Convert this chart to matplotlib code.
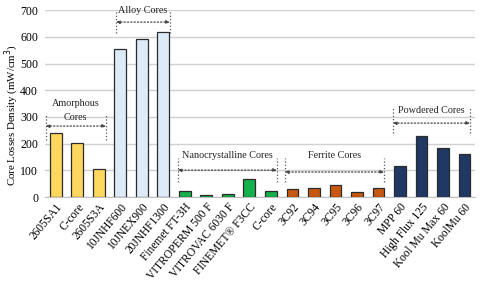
import matplotlib.pyplot as plt

# Data
cores = ["2605SA1", "C-core", "2605S3A", "10JNHF600", "10JNEX900", "20JNHF1300",
         "Finemet FT-3H", "VITROPERM 500 F", "VITROVAC 6030 F", "FINEMET® F3CC", "C-core",
         "3C92", "3C94", "3C95", "3C96", "3C97",
         "MPP 60", "High Flux 125", "Kool Mu Max 60", "KoolMu 60"]
losses = [240, 202, 104, 554, 590, 619,
          24, 9, 12, 66, 22,
          30, 34, 46, 18, 34,
          115, 230, 182, 163]
groups = ["amorphous"] * 3 + ["alloy"] * 3 + ["nano"] * 5 + ["ferrite"] * 5 + ["powder"] * 4

group_colors = {"amorphous": "#FFD75E", "alloy": "#DDEAF7", "nano": "#14B04C",
                "ferrite": "#C8580F", "powder": "#1F3864"}

plt.rcParams["font.family"] = ["Liberation Serif", "DejaVu Serif"]

fig = plt.figure(figsize=(4.8, 2.96), dpi=100)
ax = fig.add_axes([0.094, 0.334, 0.896, 0.632])

x = list(range(len(cores)))
colors = [group_colors[g] for g in groups]
ax.bar(x, losses, width=0.55, color=colors, edgecolor="#2b2b2b", linewidth=0.9, zorder=3)

ax.set_xlim(-0.5, len(cores) - 0.5)
ax.set_ylim(0, 700)
ax.set_yticks(range(0, 701, 100))
ax.yaxis.grid(True, color="#d0d0d0", linewidth=1.0, zorder=0)
ax.set_xticks(x)
ax.set_xticklabels(cores, rotation=50, ha="right", rotation_mode="anchor", fontsize=8.3)
ax.tick_params(axis="x", length=0, pad=3)
ax.tick_params(axis="y", length=0, labelsize=8.5, pad=5)
for side in ["top", "right", "left"]:
    ax.spines[side].set_visible(False)
ax.spines["bottom"].set_color("#c0c0c0")
fig.text(0.024, 0.61, "Core Losses Density (mW/cm$^3$)", rotation=90,
         ha="center", va="center", fontsize=7.8)


def bracket(x0, x1, y_arrow, y_lo, y_hi, label, y_text):
    for xv in (x0, x1):
        ax.plot([xv, xv], [y_lo, y_hi], color="#555555", linestyle=":", linewidth=0.9,
                zorder=4, clip_on=False)
    ax.annotate("", xy=(x0, y_arrow), xytext=(x1, y_arrow),
                arrowprops=dict(arrowstyle="<|-|>", linestyle=":", color="#444444",
                                linewidth=0.9, mutation_scale=5, shrinkA=0, shrinkB=0),
                annotation_clip=False, zorder=4)
    ax.text((x0 + x1) / 2, y_text, label, ha="center", va="center", fontsize=7.3,
            color="#222222", linespacing=1.6)


bracket(-0.47, 2.33, 266, 213, 307, "Amorphous\nCores", 324)
bracket(2.8, 5.3, 655, 614, 700, "Alloy Cores", 700)
bracket(5.67, 10.28, 101, 56, 146, "Nanocrystalline Cores", 157)
bracket(10.65, 15.26, 94, 56, 146, "Ferrite Cores", 155)
bracket(15.67, 19.26, 277, 240, 333, "Powdered Cores", 326)

fig.savefig("out.png", dpi=100)
